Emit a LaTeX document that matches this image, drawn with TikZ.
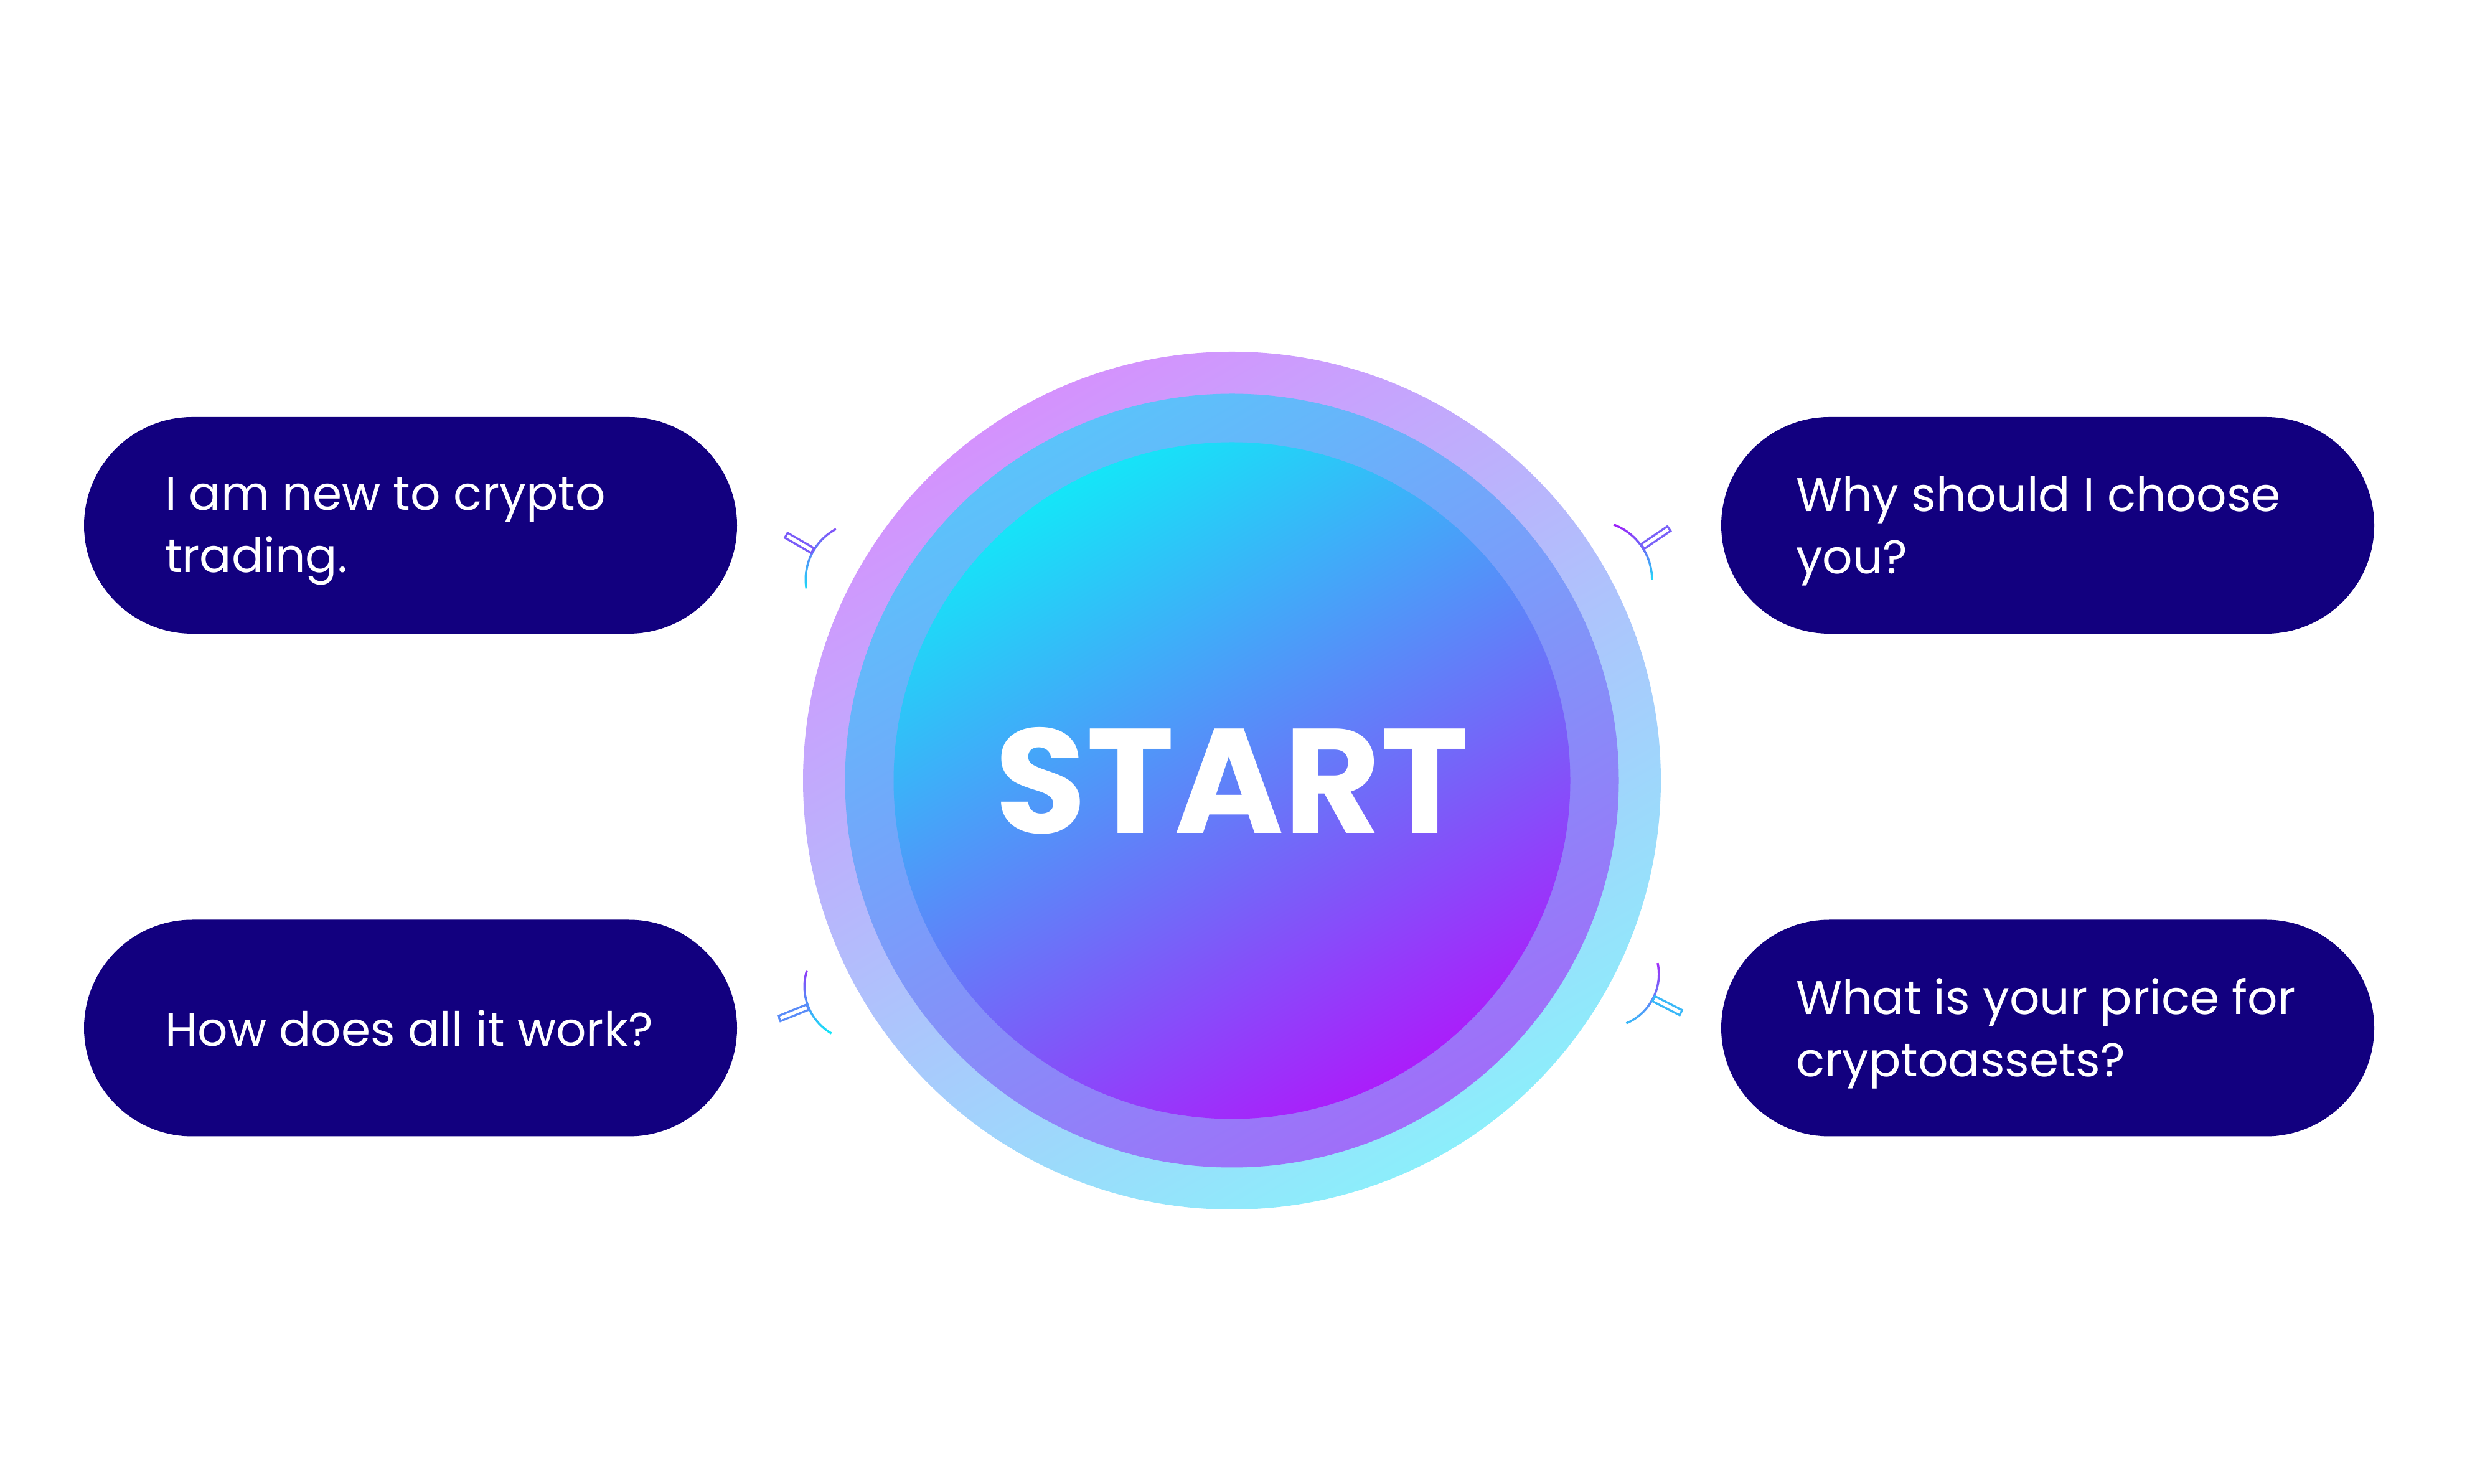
\documentclass[tikz,border=0pt]{standalone}
\usepackage{fontspec}
\setmainfont{Poppins}
\usetikzlibrary{positioning}

\definecolor{pillnavy}{RGB}{18,0,127}
\definecolor{ringA}{HTML}{D492FD}
\definecolor{ringB}{HTML}{8CEEFB}
\definecolor{bandA}{HTML}{5BC3FA}
\definecolor{bandB}{HTML}{A06EF9}
\definecolor{coreA}{HTML}{15E5F8}
\definecolor{coreB}{HTML}{AA1EFA}

\tikzstyle{pill}=[fill=pillnavy, rounded corners=1.74cm, minimum width=10.49cm, minimum height=3.48cm, inner sep=0pt]
\tikzstyle{pilltext}=[text=white, align=left, inner sep=0pt, font=\fontsize{21.6}{28.45}\selectfont]
\tikzstyle{plug}=[line width=0.033cm]

\begin{document}
\begin{tikzpicture}
      \useasboundingbox (0,0) rectangle (40,23.84);

      % hub circle
      \coordinate (hub) at (19.79,11.30);
      \shade[top color=ringA, bottom color=ringB, shading angle=30] (hub) circle[radius=6.89];
      \shade[top color=bandA, bottom color=bandB, shading angle=30] (hub) circle[radius=6.215];
      \shade[top color=coreA, bottom color=coreB, shading angle=30] (hub) circle[radius=5.435];
      \node[text=white, font=\fontsize{68}{82}\bfseries\selectfont] (start) at (hub) {START};

      % questions
      \node[pill] (newbie) at (6.595,15.40) {};
      \node[pill] (howworks) at (6.595,7.325) {};
      \node[pill] (whyyou) at (32.895,15.40) {};
      \node[pill] (price) at (32.895,7.325) {};

      \node[pilltext, right=1.3cm of newbie.west, yshift=-0.09cm] (newbie-text) {I am new to crypto\\trading.};
      \node[pilltext, right=1.3cm of howworks.west] (howworks-text) {How does all it work?};
      \node[pilltext, right=1.2cm of whyyou.west, yshift=-0.09cm] (whyyou-text) {Why should I choose\\you?};
      \node[pilltext, right=1.2cm of price.west, yshift=-0.09cm] (price-text) {What is your price for\\cryptoassets?};

      % plugs
      \coordinate (plugA) at (13.86,14.53);
      \coordinate (plugB) at (25.60,14.53);
      \coordinate (plugC) at (13.79,7.99);
      \coordinate (plugD) at (25.79,8.19);

      \shade[top color={rgb,255:red,132;green,80;blue,248}, bottom color={rgb,255:red,28;green,216;blue,248}]
        (plugA) ++(118:0.9) arc[start angle=118, end angle=189, radius=0.9] -- ++(189:0.035) arc[start angle=189, end angle=118, radius=0.935] -- cycle;
      \draw[plug, draw={rgb,255:red,122;green,92;blue,248}, shift={(plugA)}, rotate=150] (0.93,-0.045) rectangle (1.42,0.045);

      \shade[top color={rgb,255:red,160;green,28;blue,248}, bottom color={rgb,255:red,32;green,218;blue,248}]
        (plugB) ++(0:0.92) arc[start angle=0, end angle=70, radius=0.92] -- ++(70:0.035) arc[start angle=70, end angle=0, radius=0.955] -- cycle;
      \draw[plug, draw={rgb,255:red,122;green,98;blue,248}, shift={(plugB)}, rotate=34] (0.95,-0.045) rectangle (1.46,0.045);

      \shade[top color={rgb,255:red,144;green,56;blue,248}, bottom color={rgb,255:red,18;green,234;blue,248}]
        (plugC) ++(163:0.85) arc[start angle=163, end angle=240, radius=0.85] -- ++(240:0.035) arc[start angle=240, end angle=163, radius=0.885] -- cycle;
      \draw[plug, draw={rgb,255:red,90;green,140;blue,248}, shift={(plugC)}, rotate=202] (0.88,-0.045) rectangle (1.37,0.045);

      \shade[top color={rgb,255:red,160;green,44;blue,248}, bottom color={rgb,255:red,56;green,188;blue,248}]
        (plugD) ++(-67:0.84) arc[start angle=-67, end angle=12, radius=0.84] -- ++(12:0.035) arc[start angle=12, end angle=-67, radius=0.875] -- cycle;
      \draw[plug, draw={rgb,255:red,58;green,184;blue,248}, shift={(plugD)}, rotate=-27] (0.87,-0.045) rectangle (1.36,0.045);
    \end{tikzpicture}
\end{document}
